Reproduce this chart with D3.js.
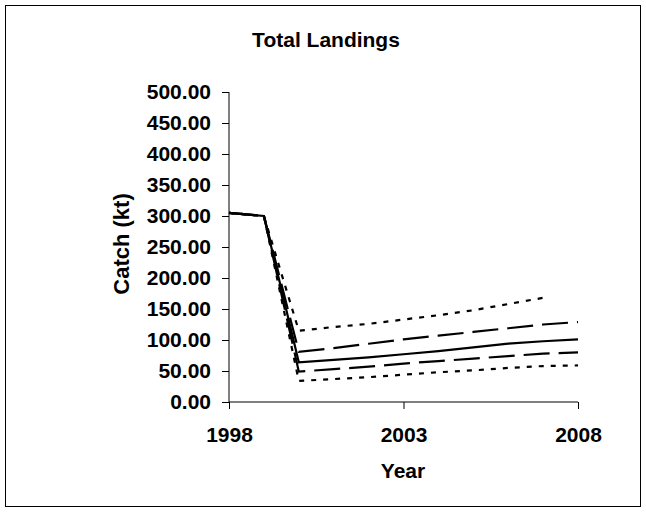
<!DOCTYPE html>
<html><head><meta charset="utf-8">
<script src="https://cdn.jsdelivr.net/npm/d3@7"></script>
<style>html,body{margin:0;padding:0;background:#fff}svg{display:block}</style>
</head><body>
<script>
const years = [1998,1999,2000,2001,2002,2003,2004,2005,2006,2007,2008];
const central   = [305,300,64,68,72,77,82,88,94,98,101];
const upper80   = [305,300,81,87,94,101,107,113,119,125,129];
const lower80   = [305,300,49,53,57,62,66,70,74,78,80];
const upper95   = [305,300,115,121,126,133,140,148,158,168,null];
const lower95   = [305,300,34,37,40,44,48,51,55,58,59];
const yTicks = [0,50,100,150,200,250,300,350,400,450,500];
const xTicks = [1998,2003,2008];

const W=646,H=512;
const svg=d3.select("body").append("svg").attr("width",W).attr("height",H);
svg.append("rect").attr("x",5.5).attr("y",5.5).attr("width",635).attr("height",501)
  .attr("fill","#fff").attr("stroke","#000").attr("stroke-width",1);

const x=d3.scaleLinear().domain([1998,2008]).range([229,578]);
const y=d3.scaleLinear().domain([0,500]).range([402,92]);
const font="'Liberation Sans', Arial, sans-serif";

svg.append("text").attr("x",326).attr("y",47).attr("text-anchor","middle")
  .attr("font-family",font).attr("font-weight","bold").attr("font-size",21).text("Total Landings");

const yAxis=svg.append("g").attr("transform","translate(229,0)")
  .call(d3.axisLeft(y).tickValues(yTicks).tickFormat(d3.format(".2f")).tickSize(7).tickPadding(11));
const xAxis=svg.append("g").attr("transform","translate(0,402)")
  .call(d3.axisBottom(x).tickValues(xTicks).tickFormat(d3.format("d")).tickSize(7).tickPadding(18));
[yAxis,xAxis].forEach(g=>{
  g.select(".domain").attr("stroke","#000").attr("stroke-width",1);
  g.selectAll(".tick line").attr("stroke","#000");
  g.selectAll("text").attr("font-family",font).attr("font-weight","bold").attr("font-size",21).attr("fill","#000");
});
yAxis.select(".domain").attr("d","M0,92V402");
xAxis.select(".domain").attr("d","M229,0H578");

svg.append("text").attr("x",403).attr("y",478).attr("text-anchor","middle")
  .attr("font-family",font).attr("font-weight","bold").attr("font-size",21).text("Year");
svg.append("text").attr("transform","translate(129,244) rotate(-90)").attr("text-anchor","middle")
  .attr("font-family",font).attr("font-weight","bold").attr("font-size",22).text("Catch (kt)");

const series=[
  {v:upper95,dash:"5,7"},
  {v:lower95,dash:"5,7"},
  {v:upper80,dash:"26,9"},
  {v:lower80,dash:"26,9"},
  {v:central,dash:null}
];
const line=d3.line().defined(d=>d[1]!=null).x(d=>x(d[0])).y(d=>y(d[1]));
series.forEach(s=>{
  svg.append("path").datum(years.map((yr,i)=>[yr,s.v[i]]))
    .attr("d",line).attr("fill","none").attr("stroke","#000").attr("stroke-width",2.2)
    .attr("stroke-dasharray",s.dash);
});
</script>
</body></html>
